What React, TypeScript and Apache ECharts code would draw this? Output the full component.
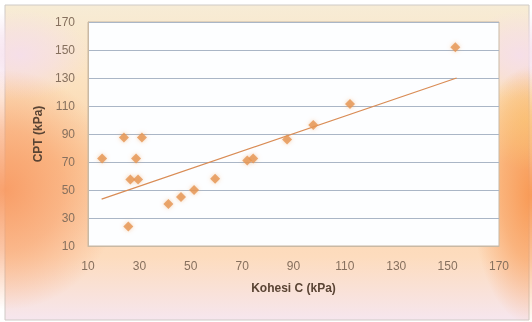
import React, { useEffect, useRef } from "react";
import * as echarts from "echarts";

const kohesiC = [15.5, 24, 31, 28.7, 26.5, 29.5, 25.7, 41.3, 46.2, 51.3, 59.5, 72, 74.3, 87.5, 97.7, 112, 153];
const cpt = [72.5, 87.5, 87.5, 72.5, 57.5, 57.5, 24, 40, 45, 50, 58, 71, 72.5, 86, 96.5, 111.5, 152];
const trendX = [15.3, 153.5];
const trendY = [43.5, 130];
const axisMin = 10;
const axisMax = 170;
const axisStep = 20;

function glow(cx: number, cy: number, rx: number, ry: number, rgb: string, a: number) {
  return {
    type: "ellipse",
    z: -9,
    silent: true,
    shape: { cx, cy, rx, ry },
    style: {
      fill: new echarts.graphic.RadialGradient(0.5, 0.5, 0.5, [
        { offset: 0, color: `rgba(${rgb},${a})` },
        { offset: 0.5, color: `rgba(${rgb},${a * 0.6})` },
        { offset: 1, color: `rgba(${rgb},0)` },
      ]),
    },
  };
}

export default function App() {
  const ref = useRef<HTMLDivElement>(null);
  useEffect(() => {
    if (!ref.current) return;
    const chart = echarts.init(ref.current, null, { renderer: "svg" });
    const points = kohesiC.map((x, i) => [x, cpt[i]]);
    const trend = trendX.map((x, i) => [x, trendY[i]]);
    const labelStyle = { color: "#86705e", fontSize: 12, fontFamily: "Liberation Sans" };
    const nameStyle = { color: "#5a4434", fontSize: 12, fontWeight: "bold", fontFamily: "Liberation Sans" };
    chart.setOption({
      animation: false,
      backgroundColor: "transparent",
      graphic: [
        {
          type: "rect",
          z: -10,
          silent: true,
          shape: { x: 5, y: 5, width: 524, height: 315 },
          style: {
            fill: new echarts.graphic.LinearGradient(0, 0, 0, 1, [
              { offset: 0, color: "#f7ecd6" },
              { offset: 0.2, color: "#fbe4c4" },
              { offset: 0.5, color: "#fcd4a8" },
              { offset: 0.8, color: "#fddcbe" },
              { offset: 1, color: "#f6e6ee" },
            ]),
            stroke: "#cfcac6",
            lineWidth: 1,
          },
        },
        glow(20, 55, 70, 45, "245,222,236", 0.9),
        glow(520, 55, 55, 45, "245,222,236", 0.9),
        glow(5, 190, 115, 120, "248,155,100", 0.95),
        glow(532, 195, 60, 130, "248,150,80", 0.95),
        glow(525, 120, 40, 50, "250,195,110", 0.6),
      ],
      grid: {
        left: 88,
        right: 33,
        top: 22,
        bottom: 76,
        show: true,
        backgroundColor: "#fdfeff",
        borderColor: "#c9b9a4",
        borderWidth: 1,
      },
      xAxis: {
        type: "value",
        min: axisMin,
        max: axisMax,
        interval: axisStep,
        name: "Kohesi C (kPa)",
        nameLocation: "middle",
        nameGap: 36,
        nameTextStyle: nameStyle,
        axisLine: { show: true, lineStyle: { color: "#c9b9a4" } },
        axisTick: { show: false },
        splitLine: { show: false },
        axisLabel: { ...labelStyle, margin: 14 },
      },
      yAxis: {
        type: "value",
        min: axisMin,
        max: axisMax,
        interval: axisStep,
        name: "CPT (kPa)",
        nameLocation: "middle",
        nameGap: 41,
        nameTextStyle: nameStyle,
        axisLine: { show: true, lineStyle: { color: "#c9b9a4" } },
        axisTick: { show: false },
        splitLine: { show: true, lineStyle: { color: "#aab6c6", width: 1 } },
        axisLabel: { ...labelStyle, margin: 13 },
      },
      series: [
        {
          type: "line",
          data: trend,
          symbol: "none",
          lineStyle: { color: "#d98c55", width: 1.2 },
          z: 2,
        },
        {
          type: "scatter",
          data: points,
          symbol: "diamond",
          symbolSize: 10,
          itemStyle: { color: "#e59450", shadowColor: "rgba(240,160,90,0.6)", shadowBlur: 4 },
          z: 3,
        },
      ],
    });
    return () => chart.dispose();
  }, []);
  return (
    <div
      ref={ref}
      style={{ position: "fixed", left: 0, top: 0, width: 532, height: 322 }}
    />
  );
}
